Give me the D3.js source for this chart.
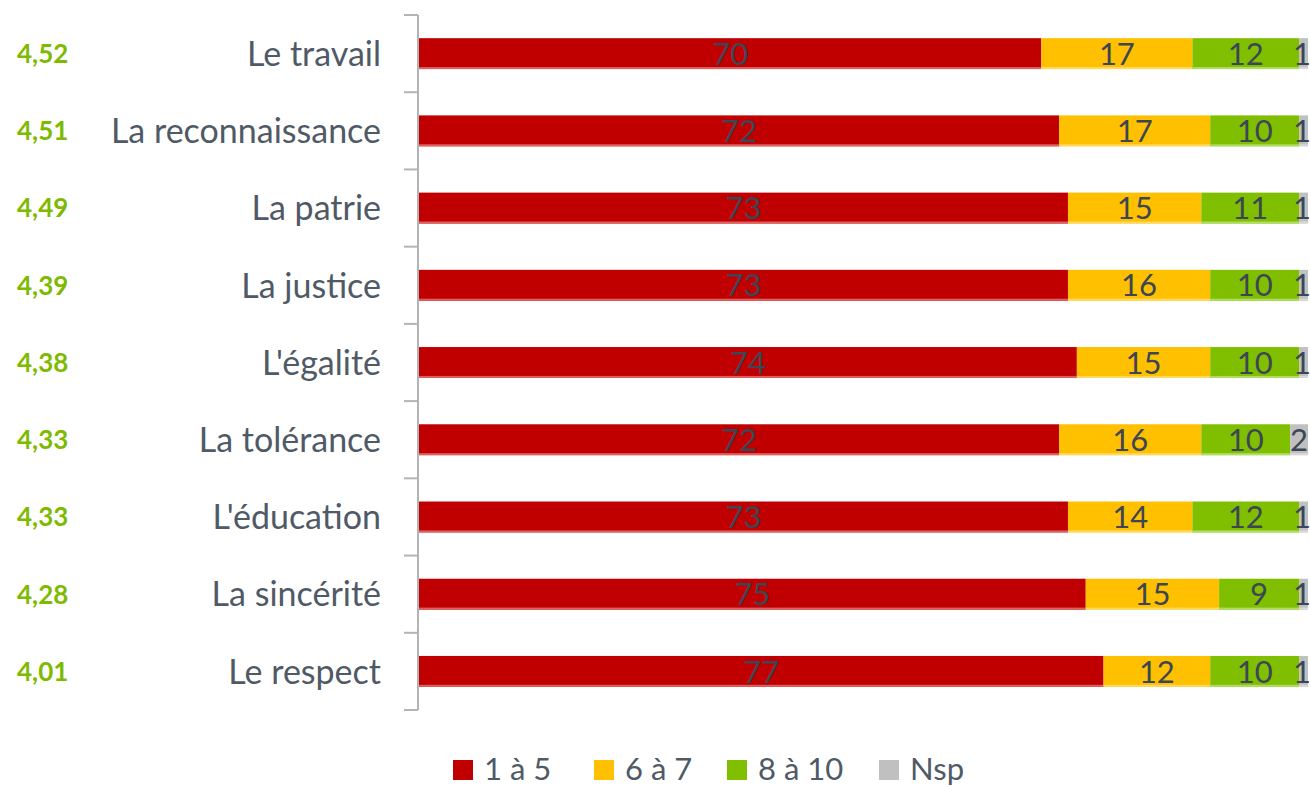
<!DOCTYPE html>
<html><head><meta charset="utf-8">
<script src="https://cdn.jsdelivr.net/npm/d3@7"></script>
<style>body{margin:0;background:#fff;} text{font-family:Lato,"Open Sans",sans-serif;}</style>
</head><body>
<svg id="c" width="1310" height="787"></svg>
<script>
const categories = ["Le travail","La reconnaissance","La patrie","La justice","L'égalité","La tolérance","L'éducation","La sincérité","Le respect"];
const scores = ["4,52","4,51","4,49","4,39","4,38","4,33","4,33","4,28","4,01"];
const seriesNames = ["1 à 5","6 à 7","8 à 10","Nsp"];
const s1a5 = [70,72,73,73,74,72,73,75,77];
const s6a7 = [17,17,15,16,15,16,14,15,12];
const s8a10 = [12,10,11,10,10,10,12,9,10];
const sNsp = [1,1,1,1,1,2,1,1,1];
const colors = ["#c00000","#ffc000","#7fbf00","#c0c0c0"];
const lightColors = ["#e06060","#ffd860","#b0dc60","#d8d8d8"];

const svg = d3.select("#c");
const x = d3.scaleLinear().domain([0,100]).range([419,1308]);
const y = d3.scaleBand().domain(categories).range([15,710]).paddingInner(0.6).paddingOuter(0.3);
const yTicks = d3.scaleBand().domain(categories).range([15,710]);

const series = [s1a5,s6a7,s8a10,sNsp];
const rows = categories.map((c,i)=>{
  let acc=0; return series.map((s,k)=>{const r={cat:c,k,v:s[i],x0:acc,x1:acc+s[i]};acc+=s[i];return r;});
});

// axis line & ticks
const ax = svg.append("g").attr("stroke","#b4b4b4").attr("stroke-width",2);
ax.append("line").attr("x1",418).attr("x2",418).attr("y1",15).attr("y2",710);
const tickYs = categories.map(c=>yTicks(c)).concat([710]);
ax.selectAll(".t").data(tickYs).join("line").attr("x1",404).attr("x2",418).attr("y1",d=>d).attr("y2",d=>d);

const g = svg.append("g");
rows.forEach(r=>{
  r.forEach(d=>{
    const yy=y(d.cat), h=y.bandwidth();
    g.append("rect").attr("x",x(d.x0)).attr("y",yy).attr("width",x(d.x1)-x(d.x0)).attr("height",h).attr("fill",colors[d.k]);
    g.append("rect").attr("x",x(d.x0)).attr("y",yy+h-2).attr("width",x(d.x1)-x(d.x0)).attr("height",2).attr("fill",lightColors[d.k]);
    const cx=(x(d.x0)+x(d.x1))/2;
    g.append("text").attr("x",d.k===3?Math.min(cx,1302):cx).attr("y",yy+h/2).attr("dy","0.36em")
      .attr("text-anchor","middle").attr("font-size",31).attr("fill","#3c4654").text(d.v);
  });
});

// category labels
svg.append("g").selectAll("text").data(categories).join("text")
  .attr("x",381).attr("y",d=>y(d)+y.bandwidth()/2).attr("dy","0.36em")
  .attr("text-anchor","end").attr("font-size",34).attr("fill","#505a66").text(d=>d);

// scores
svg.append("g").selectAll("text").data(scores).join("text")
  .attr("x",17).attr("y",(d,i)=>y(categories[i])+y.bandwidth()/2).attr("dy","0.36em")
  .attr("font-size",26).attr("font-weight","bold").attr("fill","#7dba00").text(d=>d);

// legend
const legX=[453,594,727,879];
const lg = svg.append("g");
seriesNames.forEach((n,k)=>{
  lg.append("rect").attr("x",legX[k]).attr("y",760).attr("width",20).attr("height",20).attr("fill",colors[k]);
  lg.append("text").attr("x",legX[k]+31).attr("y",769).attr("dy","0.36em").attr("font-size",31).attr("fill","#505a66").text(n);
});
</script>
</body></html>
